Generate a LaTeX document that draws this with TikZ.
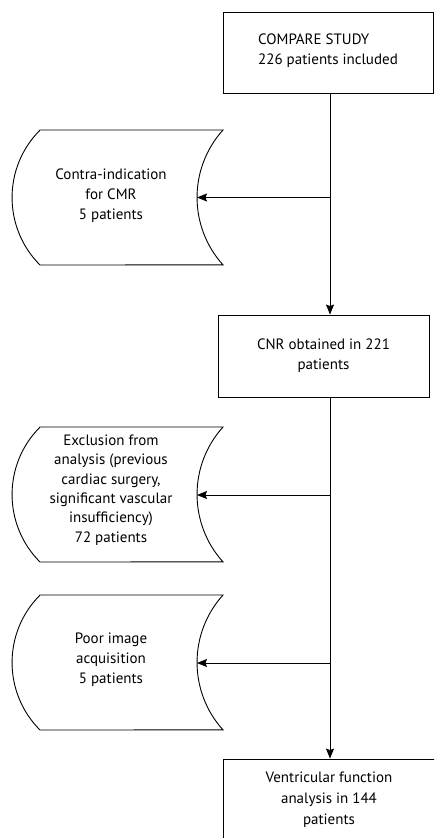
\documentclass[tikz,border=0pt]{standalone}
\usepackage{fontspec}
\setmainfont{PT Sans}
\usetikzlibrary{arrows.meta}
\newcommand\sdpath[1]{(40,#1+67.5) -- (223,#1+67.5) arc[start angle=137.9,end angle=222.1,radius=100.6] -- (40,#1-67.5) arc[start angle=225,end angle=135,radius=95.4] -- cycle}
\begin{document}
\begin{tikzpicture}[x=1pt,y=1pt,
  lw/.style={line width=0.9pt},
  box/.style={draw, lw, inner sep=0pt},
  txt/.style={align=center, font=\fontsize{15}{20}\selectfont, inner sep=0pt},
  outline/.style={draw, lw},
  arr/.style={lw, -{Stealth[length=10pt,width=8pt,inset=1.5pt]}}]
\useasboundingbox (0,0) rectangle (434,-838);
\fill[white] (0,0) rectangle (434,-838);
\clip (0,0) rectangle (434,-838);

% main boxes
\node[box, minimum width=210pt, minimum height=81pt] (b1) at (328,-52.5) {};
\node[txt, align=left, anchor=west] (b1t) at (258,-51) {COMPARE STUDY\\226 patients included};
\node[box, txt, minimum width=211pt, minimum height=82pt] (b2) at (323.5,-356) {CNR obtained in 221\\patients};
\node[box, txt, minimum width=212pt, minimum height=81pt, font=\fontsize{15}{21}\selectfont] (b3) at (329,-799.5) {Ventricular function\\analysis in 144\\patients};

% exclusion shapes
\draw[outline] \sdpath{-197.5};
\node[txt] (s1) at (111,-196) {Contra-indication\\for CMR\\5 patients};
\draw[outline] \sdpath{-494.5};
\node[txt, font=\fontsize{15}{19.3}\selectfont] (s2) at (111,-490) {Exclusion from\\analysis (previous\\cardiac surgery,\\significant vascular\\insufficiency)\\72 patients};
\draw[outline] \sdpath{-662.5};
\node[txt] (s3) at (111,-660) {Poor image\\acquisition\\5 patients};

% junctions and arrow targets
\coordinate (j1) at (330,-197.5);
\coordinate (e1) at (197,-197.5);
\coordinate (j2) at (330,-495);
\coordinate (e2) at (197,-495);
\coordinate (j3) at (330,-663);
\coordinate (e3) at (197,-663);

\draw[arr] (b1.south -| j1) -- (b2.north -| j1);
\draw[arr] (b2.south -| j2) -- (b3.north -| j2);
\draw[arr] (j1) -- (e1);
\draw[arr] (j2) -- (e2);
\draw[arr] (j3) -- (e3);
\end{tikzpicture}
\end{document}
